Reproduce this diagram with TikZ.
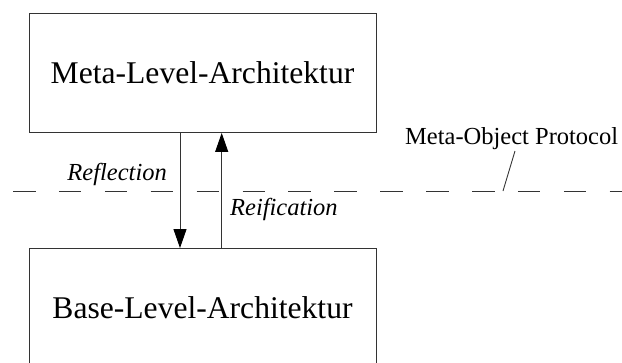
\documentclass[tikz,border=0pt]{standalone}
\usepackage{fontspec}
\setmainfont{Liberation Serif}
\usetikzlibrary{arrows.meta}
\tikzset{
  lvlbox/.style={draw=black!80, line width=0.9pt, minimum width=347pt, minimum height=119pt, inner sep=0pt, font=\fontsize{31.6}{36}\selectfont},
  arr/.style={draw=black!80, line width=0.9pt, -{Triangle[length=19pt,width=13pt,fill=black,color=black]}},
  lbl/.style={inner sep=0pt, font=\fontsize{24.5}{28}\selectfont\itshape},
  mlbl/.style={inner sep=0pt, font=\fontsize{24.5}{28}\selectfont},
  sep/.style={draw=black!80, line width=0.9pt, dash pattern=on 22.5pt off 23.4pt},
  thin/.style={draw=black!80, line width=0.9pt}
}
\begin{document}
\begin{tikzpicture}[x=1pt,y=-1pt]
\clip (0,0) rectangle (622,362);
\node[lvlbox] (meta) at (202.5,73) {Meta-Level-Architektur};
\node[lvlbox] (base) at (202.5,308) {Base-Level-Architektur};
\coordinate (xr) at (180,0);
\coordinate (xi) at (221.7,0);
\draw[arr] (meta.south -| xr) -- (base.north -| xr);
\draw[arr] (base.north -| xi) -- (meta.south -| xi);
\node[lbl, anchor=base east] (refl) at (167,180) {Reflection};
\node[lbl, anchor=base west] (reif) at (230,215) {Reification};
\coordinate (dl) at (13,191);
\coordinate (dr) at (622,191);
\draw[sep] (dl) -- (dr);
\node[mlbl, anchor=base west] (mop) at (405,144) {Meta-Object Protocol};
\coordinate (s1) at (503,191);
\coordinate (s2) at (515,151);
\draw[thin] (s1) -- (s2);
\end{tikzpicture}
\end{document}
